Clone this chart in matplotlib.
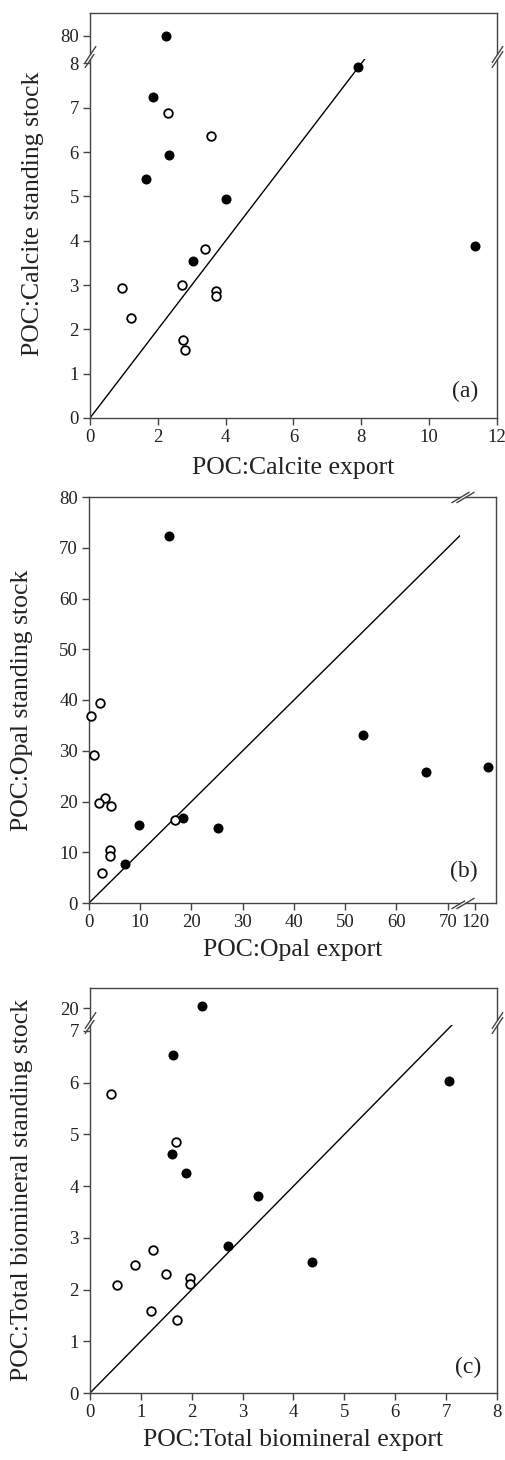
import matplotlib
matplotlib.use("Agg")
import matplotlib.pyplot as plt
import numpy as np

plt.rcParams['font.family'] = ['Liberation Serif', 'DejaVu Serif']

# ---- data: panel (a) POC:Calcite ----
calc_fill_x = [2.23, 1.85, 2.32, 1.64, 4.02, 3.03, 7.90, 11.36]
calc_fill_y = [80.0, 7.24, 5.94, 5.39, 4.95, 3.54, 7.93, 3.87]
calc_open_x = [2.30, 3.58, 3.39, 2.72, 3.72, 3.72, 0.93, 1.22, 2.74, 2.80]
calc_open_y = [6.88, 6.37, 3.82, 2.99, 2.87, 2.76, 2.93, 2.26, 1.75, 1.53]

# ---- data: panel (b) POC:Opal ----
opal_fill_x = [15.6, 53.5, 65.8, 122.6, 9.8, 18.4, 25.2, 7.0]
opal_fill_y = [72.3, 33.2, 25.9, 26.8, 15.3, 16.8, 14.7, 7.6]
opal_open_x = [2.1, 0.3, 0.9, 3.2, 1.9, 4.3, 16.7, 4.1, 4.1, 2.6]
opal_open_y = [39.5, 36.9, 29.1, 20.7, 19.7, 19.2, 16.4, 10.4, 9.2, 5.9]

# ---- data: panel (c) POC:Total biomineral ----
tot_fill_x = [2.20, 1.64, 7.05, 1.61, 1.89, 3.30, 2.72, 4.37]
tot_fill_y = [20.05, 6.54, 6.04, 4.62, 4.26, 3.81, 2.85, 2.54]
tot_open_x = [0.41, 1.70, 1.23, 0.88, 1.50, 0.54, 1.97, 1.97, 1.19, 1.71]
tot_open_y = [5.78, 4.85, 2.77, 2.47, 2.31, 2.09, 2.22, 2.11, 1.59, 1.42]

W, H = 506, 1460
fig = plt.figure(figsize=(W / 100, H / 100), dpi=100)

SPINE = '#444444'
TXT = '#222222'


def box(l, t, r, b):
    ax = fig.add_axes([l / W, 1 - b / H, (r - l) / W, (b - t) / H])
    for s in ax.spines.values():
        s.set_color(SPINE)
        s.set_linewidth(1.0)
    ax.tick_params(direction='out', length=5, width=1, color=SPINE,
                   labelsize=13.5, labelcolor=TXT, pad=3,
                   top=False, right=False)
    return ax


def points(ax, fx, fy, ox, oy, xr, yr):
    # draw only the points that belong to this segment of a broken axis
    for xs, ys, face, mew in ((fx, fy, 'black', 1.0), (ox, oy, 'white', 1.3)):
        xs, ys = np.asarray(xs), np.asarray(ys)
        m = (xs >= xr[0]) & (xs <= xr[1]) & (ys >= yr[0]) & (ys <= yr[1])
        ax.plot(xs[m], ys[m], 'o', ms=6.2, mfc=face, mec='black', mew=mew,
                clip_on=False, zorder=3)
    ax.set_xlim(*xr)
    ax.set_ylim(*yr)


def one_to_one(ax):
    ax.axline((0, 0), slope=1, color='black', lw=1.0, zorder=2)


def px_text(x, y, s, **kw):
    fig.text(x / W, 1 - y / H, s, color=TXT, **kw)


def ybreak(lower, upper, d=1.5):
    kw = dict(marker=[(-1, -d), (1, d)], markersize=12, linestyle='none',
              color=SPINE, mec=SPINE, mew=1, clip_on=False)
    lower.plot([0, 1], [1, 1], transform=lower.transAxes, **kw)
    upper.plot([0, 1], [0, 0], transform=upper.transAxes, **kw)


def xbreak(left, right, d=0.6):
    kw = dict(marker=[(-1, -d), (1, d)], markersize=13, linestyle='none',
              color=SPINE, mec=SPINE, mew=1, clip_on=False)
    left.plot([1, 1], [0, 1], transform=left.transAxes, **kw)
    right.plot([0, 0], [0, 1], transform=right.transAxes, **kw)


# ================= panel (a) =================
a_lo = box(90, 59, 497, 418)
a_hi = box(90, 13, 497, 54)
points(a_lo, calc_fill_x, calc_fill_y, calc_open_x, calc_open_y, (0, 12), (0, 8.1))
points(a_hi, calc_fill_x, calc_fill_y, calc_open_x, calc_open_y, (0, 12), (79.59, 80.52))
one_to_one(a_lo)
a_lo.set_xticks(range(0, 13, 2))
a_lo.set_yticks(range(0, 9))
a_hi.set_yticks([80])
a_hi.set_xticks([])
a_lo.spines['top'].set_visible(False)
a_hi.spines['bottom'].set_visible(False)
ybreak(a_lo, a_hi)
px_text(293, 468, 'POC:Calcite export', fontsize=18.5, ha='center', va='center')
px_text(33, 214, 'POC:Calcite standing stock', fontsize=18.5, ha='center', va='center', rotation=90)
px_text(478, 391, '(a)', fontsize=17, ha='right', va='center')

# ================= panel (b) =================
b_l = box(89, 497, 460, 903)
b_r = box(465, 497, 496, 903)
points(b_l, opal_fill_x, opal_fill_y, opal_open_x, opal_open_y, (0, 72.4), (0, 80))
points(b_r, opal_fill_x, opal_fill_y, opal_open_x, opal_open_y, (118.06, 124.06), (0, 80))
one_to_one(b_l)
b_l.set_xticks(range(0, 71, 10))
b_l.set_yticks(range(0, 81, 10))
b_r.set_xticks([120])
b_r.set_yticks([])
b_l.spines['right'].set_visible(False)
b_r.spines['left'].set_visible(False)
xbreak(b_l, b_r)
px_text(293, 950, 'POC:Opal export', fontsize=18.5, ha='center', va='center')
px_text(22, 700, 'POC:Opal standing stock', fontsize=18.5, ha='center', va='center', rotation=90)
px_text(478, 871, '(b)', fontsize=17, ha='right', va='center')

# ================= panel (c) =================
c_lo = box(90, 1025, 497, 1393)
c_hi = box(90, 988, 497, 1020)
points(c_lo, tot_fill_x, tot_fill_y, tot_open_x, tot_open_y, (0, 8), (0, 7.115))
points(c_hi, tot_fill_x, tot_fill_y, tot_open_x, tot_open_y, (0, 8), (19.774, 20.39))
one_to_one(c_lo)
c_lo.set_xticks(range(0, 9))
c_lo.set_yticks(range(0, 8))
c_hi.set_yticks([20])
c_hi.set_xticks([])
c_lo.spines['top'].set_visible(False)
c_hi.spines['bottom'].set_visible(False)
ybreak(c_lo, c_hi)
px_text(293, 1440, 'POC:Total biomineral export', fontsize=18.5, ha='center', va='center')
px_text(22, 1190, 'POC:Total biomineral standing stock', fontsize=18.5, ha='center', va='center', rotation=90)
px_text(481, 1367, '(c)', fontsize=17, ha='right', va='center')

fig.savefig('out.png', dpi=100)
